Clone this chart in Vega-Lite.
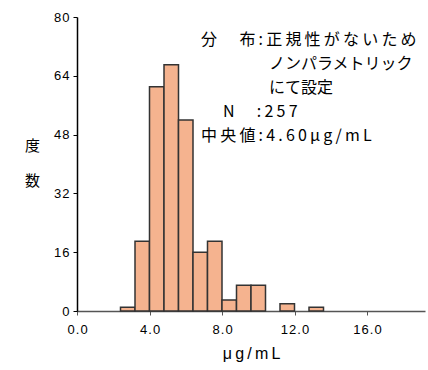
{
  "$schema": "https://vega.github.io/schema/vega-lite/v6.json",
  "width": 348,
  "height": 294,
  "autosize": {"type": "none"},
  "padding": {"left": 77, "top": 17, "right": 3, "bottom": 59},
  "background": "white",
  "config": {"view": {"stroke": null}, "axis": {"grid": false}},
  "layer": [
    {
      "data": {
        "values": [
          {"bin_start": 2.4, "bin_end": 3.2, "count": 1},
          {"bin_start": 3.2, "bin_end": 4.0, "count": 19},
          {"bin_start": 4.0, "bin_end": 4.8, "count": 61},
          {"bin_start": 4.8, "bin_end": 5.6, "count": 67},
          {"bin_start": 5.6, "bin_end": 6.4, "count": 52},
          {"bin_start": 6.4, "bin_end": 7.2, "count": 16},
          {"bin_start": 7.2, "bin_end": 8.0, "count": 19},
          {"bin_start": 8.0, "bin_end": 8.8, "count": 3},
          {"bin_start": 8.8, "bin_end": 9.6, "count": 7},
          {"bin_start": 9.6, "bin_end": 10.4, "count": 7},
          {"bin_start": 11.2, "bin_end": 12.0, "count": 2},
          {"bin_start": 12.8, "bin_end": 13.6, "count": 1}
        ]
      },
      "mark": {"type": "bar", "fill": "#F5B38F", "stroke": "#333333", "strokeWidth": 1.5},
      "encoding": {
        "x": {
          "field": "bin_start",
          "type": "quantitative",
          "scale": {"domain": [0, 19.2], "nice": false, "zero": false},
          "axis": {
            "title": "μ\u2009g\u2009/\u2009m\u2009L",
            "values": [0, 4, 8, 12, 16],
            "labelExpr": "join(split(format(datum.value,'.1f'),''),'\u200a')",
            "labelFlush": false,
            "labelFont": "Liberation Sans",
            "labelFontSize": 13,
            "labelColor": "#000000",
            "labelPadding": 8,
            "tickSize": 4,
            "tickColor": "#555555",
            "domainColor": "#555555",
            "domainWidth": 1.5,
            "titleFont": "Liberation Sans",
            "titleFontSize": 16,
            "titleFontWeight": "normal",
            "titleColor": "#000000",
            "titlePadding": 9
          }
        },
        "x2": {"field": "bin_end"},
        "y": {
          "field": "count",
          "type": "quantitative",
          "scale": {"domain": [0, 80], "nice": false},
          "axis": {
            "title": ["度", "数"],
            "values": [0, 16, 32, 48, 64, 80],
            "labelExpr": "join(split(format(datum.value,'d'),''),'\u200a')",
            "labelFlush": false,
            "labelFont": "Liberation Sans",
            "labelFontSize": 13,
            "labelColor": "#000000",
            "labelPadding": 4,
            "tickSize": 4,
            "tickColor": "#000000",
            "domainColor": "#000000",
            "domainWidth": 1.5,
            "titleFont": "Noto Sans CJK JP",
            "titleFontSize": 15,
            "titleFontWeight": "normal",
            "titleColor": "#000000",
            "titleAngle": 0,
            "titleAlign": "center",
            "titleBaseline": "middle",
            "titleLineHeight": 35,
            "titleX": -45,
            "titleY": 128
          }
        },
        "y2": {"datum": 0}
      }
    },
    {
      "data": {
        "values": [
          {"line": 1, "text": "分　布:正規性がないため"},
          {"line": 5, "text": "中央値:4.60μg/mL"}
        ]
      },
      "transform": [{"calculate": "join(split(datum.text,''),'\u2009')", "as": "shown"}],
      "mark": {"type": "text", "align": "left", "baseline": "middle", "font": "Noto Sans CJK JP", "fontSize": 16, "color": "#000000"},
      "encoding": {
        "x": {"datum": 6.84, "type": "quantitative"},
        "y": {"field": "line", "type": "ordinal", "scale": {"type": "point", "domain": [1, 2, 3, 4, 5], "range": [22.5, 118.5], "padding": 0}, "axis": null},
        "text": {"field": "shown"}
      }
    },
    {
      "data": {
        "values": [
          {"line": 2, "text": "ノンパラメトリック"},
          {"line": 3, "text": "にて設定"}
        ]
      },
      "mark": {"type": "text", "align": "left", "baseline": "middle", "font": "Noto Sans CJK JP", "fontSize": 16, "color": "#000000"},
      "encoding": {
        "x": {"datum": 10.59, "type": "quantitative"},
        "y": {"field": "line", "type": "ordinal", "scale": {"type": "point", "domain": [1, 2, 3, 4, 5], "range": [22.5, 118.5], "padding": 0}, "axis": null},
        "text": {"field": "text"}
      }
    },
    {
      "data": {
        "values": [
          {"line": 4, "text": "N　:257"}
        ]
      },
      "transform": [{"calculate": "join(split(datum.text,''),'\u2009')", "as": "shown"}],
      "mark": {"type": "text", "align": "left", "baseline": "middle", "font": "Noto Sans CJK JP", "fontSize": 16, "color": "#000000"},
      "encoding": {
        "x": {"datum": 8.05, "type": "quantitative"},
        "y": {"field": "line", "type": "ordinal", "scale": {"type": "point", "domain": [1, 2, 3, 4, 5], "range": [22.5, 118.5], "padding": 0}, "axis": null},
        "text": {"field": "shown"}
      }
    }
  ],
  "resolve": {"scale": {"y": "independent"}}
}
